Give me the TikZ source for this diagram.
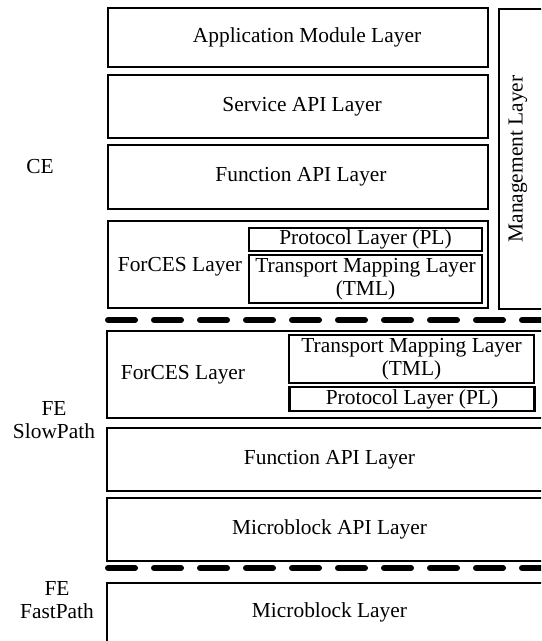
\documentclass[tikz,border=0pt]{standalone}
\usepackage{fontspec}
\setmainfont{Liberation Serif}
\usepackage{tikz}
\usetikzlibrary{positioning}
\tikzset{
  layerbox/.style={
    rectangle, draw=black, line width=1pt,
    minimum width=#1, minimum height=31.5pt,
    inner sep=0pt, align=center
  },
  layerbox/.default=190pt,
  sublayer/.style={
    rectangle, draw=black, line width=1.2pt,
    minimum width=#1, inner sep=0pt, align=center
  },
  sublayer/.default=116.5pt,
  sideLabel/.style={align=center},
  sepline/.style={
    line width=3pt, line cap=round, dash pattern=on 13.5pt off 9.5pt
  },
}

\begin{document}
\begin{tikzpicture}[x=0.5pt, y=-0.5pt,
    font=\fontsize{10.7}{11.5}\selectfont]
  \clip (0,0) rectangle (541,641);

  % CE
  \node[layerbox, minimum height=29.5pt] (app) at (298,37.5) {\hspace*{9pt}Application Module Layer};
  \node[layerbox] (svc) at (298,106.5) {\hspace*{4pt}Service API Layer};
  \node[layerbox, minimum height=32pt] (cfnc) at (298,177) {\hspace*{3pt}Function API Layer};
  \node[layerbox, minimum height=43.5pt] (cforces) at (298,264.5) {};
  \node (cforcesT) at (180,267) {ForCES Layer};
  \node[sublayer, minimum height=11.5pt] (cpl) at (365.5,239.5) {Protocol Layer (PL)};
  \node[sublayer, minimum height=24pt] (ctml) at (365.5,279) {Transport Mapping Layer\\(TML)};

  \node[layerbox=30.5pt, minimum height=150pt] (mgmt) at (529.5,159) {};
  \node[rotate=90] (mgmtT) at (518,159) {Management Layer};

  \node[sideLabel] (ce) at (40,167) {CE};

  \draw[sepline] (108,320) -- (560,320);

  % FE slow path
  \node[layerbox=222.5pt, minimum height=43.5pt] (fforces) at (329.5,374.5) {};
  \node (fforcesT) at (183,375) {ForCES Layer};
  \node[sublayer=122.5pt, minimum height=24pt] (ftml) at (411.5,359) {Transport Mapping Layer\\(TML)};
  \node[sublayer=122.5pt, minimum height=12pt] (fpl) at (412,399) {Protocol Layer (PL)};
  \node[layerbox=222.5pt] (ffnc) at (329.5,459.5) {Function API Layer};
  \node[layerbox=222.5pt] (fmapi) at (329.5,529.5) {Microblock API Layer};

  \node[sideLabel] (slow) at (54,420) {FE\\SlowPath};

  \draw[sepline] (108,568) -- (560,568);

  % FE fast path
  \node[layerbox=222.5pt, minimum height=29.5pt] (fmb) at (329.5,612.5) {Microblock Layer};
  \node[sideLabel] (fast) at (57,600) {FE\\FastPath};
\end{tikzpicture}
\end{document}
